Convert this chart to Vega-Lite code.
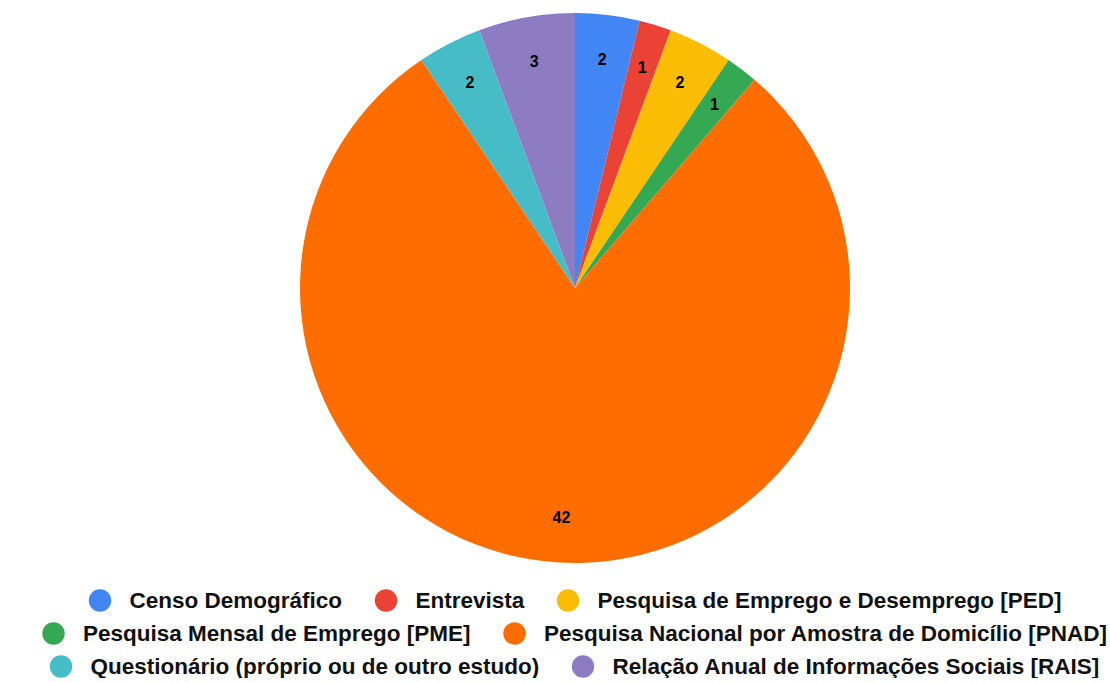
{
  "$schema": "https://vega.github.io/schema/vega-lite/v6.json",
  "padding": {"top": 5, "left": 39, "right": 0, "bottom": 0},
  "background": "white",
  "config": {"view": {"stroke": null}, "concat": {"spacing": 14}},
  "data": {"values": [
    {"fonte": "Censo Demográfico", "n": 2},
    {"fonte": "Entrevista", "n": 1},
    {"fonte": "Pesquisa de Emprego e Desemprego [PED]", "n": 2},
    {"fonte": "Pesquisa Mensal de Emprego [PME]", "n": 1},
    {"fonte": "Pesquisa Nacional por Amostra de Domicílio [PNAD]", "n": 42},
    {"fonte": "Questionário (próprio ou de outro estudo)", "n": 2},
    {"fonte": "Relação Anual de Informações Sociais [RAIS]", "n": 3}
  ]},
  "vconcat": [
    {
      "width": 550,
      "height": 566,
      "transform": [{"window": [{"op": "row_number", "as": "ordem"}]}],
      "encoding": {
        "theta": {"field": "n", "type": "quantitative", "stack": true},
        "order": {"field": "ordem", "type": "quantitative"}
      },
      "layer": [
        {"mark": {"type": "arc", "outerRadius": 275},
         "encoding": {
          "color": {
            "field": "fonte", "type": "nominal", "legend": null,
            "scale": {
              "domain": ["Censo Demográfico", "Entrevista", "Pesquisa de Emprego e Desemprego [PED]", "Pesquisa Mensal de Emprego [PME]", "Pesquisa Nacional por Amostra de Domicílio [PNAD]", "Questionário (próprio ou de outro estudo)", "Relação Anual de Informações Sociais [RAIS]"],
              "range": ["#4285F4", "#EA4335", "#FBBC04", "#34A853", "#FF6D01", "#46BDC6", "#8E7CC3"]
            }
          }
        }},
        {"mark": {"type": "text", "radius": 230, "font": "Liberation Sans", "fontWeight": "bold", "fontSize": 16, "fill": "#000000"},
         "encoding": {"text": {"field": "n", "type": "quantitative"}}}
      ]
    },
    {
      "vconcat": [
        {
          "width": 1, "height": 1,
          "transform": [{"filter": {"field": "fonte", "oneOf": ["Censo Demográfico", "Entrevista", "Pesquisa de Emprego e Desemprego [PED]"]}}],
          "mark": {"type": "point", "opacity": 0, "filled": true},
          "encoding": {
            "color": {"field": "fonte", "type": "nominal",
              "scale": {"domain": ["Censo Demográfico", "Entrevista", "Pesquisa de Emprego e Desemprego [PED]"], "range": ["#4285F4", "#EA4335", "#FBBC04"]},
              "legend": {"title": null, "orient": "bottom", "direction": "horizontal", "offset": 0, "symbolType": "circle", "symbolSize": 500, "symbolOpacity": 1, "symbolStrokeWidth": 0, "labelFont": "Liberation Sans", "labelFontWeight": "bold", "labelFontSize": 22.5, "labelColor": "#111111", "labelLimit": 1000, "labelOffset": 18, "columnPadding": 32, "padding": 0}}
          }
        },
        {
          "width": 1, "height": 1,
          "transform": [{"filter": {"field": "fonte", "oneOf": ["Pesquisa Mensal de Emprego [PME]", "Pesquisa Nacional por Amostra de Domicílio [PNAD]"]}}],
          "mark": {"type": "point", "opacity": 0, "filled": true},
          "encoding": {
            "color": {"field": "fonte", "type": "nominal",
              "scale": {"domain": ["Pesquisa Mensal de Emprego [PME]", "Pesquisa Nacional por Amostra de Domicílio [PNAD]"], "range": ["#34A853", "#FF6D01"]},
              "legend": {"title": null, "orient": "bottom", "direction": "horizontal", "offset": 0, "symbolType": "circle", "symbolSize": 500, "symbolOpacity": 1, "symbolStrokeWidth": 0, "labelFont": "Liberation Sans", "labelFontWeight": "bold", "labelFontSize": 22.5, "labelColor": "#111111", "labelLimit": 1000, "labelOffset": 18, "columnPadding": 32, "padding": 0}}
          }
        },
        {
          "width": 1, "height": 1,
          "transform": [{"filter": {"field": "fonte", "oneOf": ["Questionário (próprio ou de outro estudo)", "Relação Anual de Informações Sociais [RAIS]"]}}],
          "mark": {"type": "point", "opacity": 0, "filled": true},
          "encoding": {
            "color": {"field": "fonte", "type": "nominal",
              "scale": {"domain": ["Questionário (próprio ou de outro estudo)", "Relação Anual de Informações Sociais [RAIS]"], "range": ["#46BDC6", "#8E7CC3"]},
              "legend": {"title": null, "orient": "bottom", "direction": "horizontal", "offset": 0, "symbolType": "circle", "symbolSize": 500, "symbolOpacity": 1, "symbolStrokeWidth": 0, "labelFont": "Liberation Sans", "labelFontWeight": "bold", "labelFontSize": 22.5, "labelColor": "#111111", "labelLimit": 1000, "labelOffset": 18, "columnPadding": 32, "padding": 0}}
          }
        }
      ],
      "spacing": 6,
      "center": true,
      "resolve": {"scale": {"color": "independent"}, "legend": {"color": "independent"}}
    }
  ],
  "center": true,
  "resolve": {"scale": {"color": "independent"}, "legend": {"color": "independent"}}
}
